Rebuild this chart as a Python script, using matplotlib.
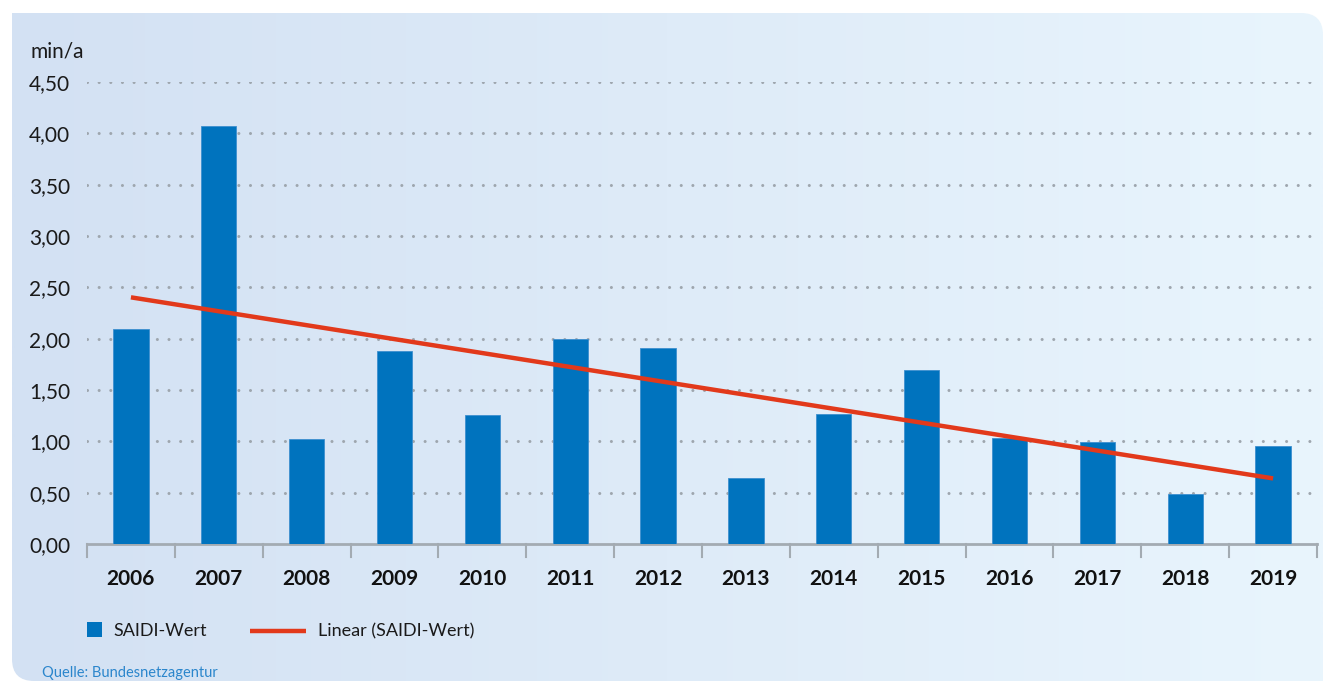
import numpy as np
import matplotlib
matplotlib.use("Agg")
import matplotlib.pyplot as plt
from matplotlib.path import Path
from matplotlib.patches import PathPatch, Rectangle
from matplotlib.lines import Line2D

years = ["2006", "2007", "2008", "2009", "2010", "2011", "2012",
         "2013", "2014", "2015", "2016", "2017", "2018", "2019"]
saidi = [2.09, 4.07, 1.02, 1.88, 1.26, 2.00, 1.91,
         0.64, 1.27, 1.69, 1.03, 0.99, 0.49, 0.95]
y_ticks = [0.0, 0.5, 1.0, 1.5, 2.0, 2.5, 3.0, 3.5, 4.0, 4.5]
y_labels = ["0,00", "0,50", "1,00", "1,50", "2,00", "2,50", "3,00", "3,50", "4,00", "4,50"]
legend_labels = ["SAIDI-Wert", "Linear (SAIDI-Wert)"]

BAR = "#0073be"
RED = "#e2391b"
GRID = "#9ea6ae"
FONT = "Lato"

W, H = 1324, 684
fig = plt.figure(figsize=(W / 100, H / 100), dpi=100)

# background panel with gradient (pixel coordinates)
bg = fig.add_axes([0, 0, 1, 1])
bg.set_xlim(0, W)
bg.set_ylim(H, 0)
bg.axis("off")
x0, x1, y0, y1, r = 12, 1323, 13, 681, 22
verts = [(x0, y0), (x1 - r, y0), (x1, y0), (x1, y0 + r), (x1, y1),
         (x0 + r, y1), (x0, y1), (x0, y1 - r), (x0, y0)]
codes = [Path.MOVETO, Path.LINETO, Path.CURVE3, Path.CURVE3, Path.LINETO,
         Path.LINETO, Path.CURVE3, Path.CURVE3, Path.CLOSEPOLY]
patch = PathPatch(Path(verts, codes), facecolor="none", edgecolor="none")
bg.add_patch(patch)
c_left = np.array([0xd3, 0xe1, 0xf3]) / 255
c_right = np.array([0xe9, 0xf5, 0xfd]) / 255
t = np.linspace(0, 1, 256)
grad = (c_left[None, :] * (1 - t[:, None]) + c_right[None, :] * t[:, None])[None, :, :]
im = bg.imshow(grad, extent=[x0, x1, y1, y0], aspect="auto", interpolation="bilinear")
im.set_clip_path(patch)

# legend drawn in pixel coordinates
bg.add_patch(Rectangle((87, 622), 15, 15, facecolor=BAR, edgecolor="none"))
bg.text(113, 631, legend_labels[0], fontsize=13, fontfamily=FONT, color="#1a1a1a",
        ha="left", va="center")
bg.add_line(Line2D([250, 306], [631, 631], color=RED, lw=3.2, solid_capstyle="butt"))
bg.text(318, 631, legend_labels[1], fontsize=13, fontfamily=FONT, color="#1a1a1a",
        ha="left", va="center")
bg.text(42, 673, "Quelle: Bundesnetzagentur", fontsize=10.5, fontfamily=FONT,
        color="#2b86cc", ha="left", va="center")
bg.text(30, 52, "min/a", fontsize=15, fontfamily=FONT, color="#1a1a1a",
        ha="left", va="center")

# main axes
ax = fig.add_axes([87 / W, 1 - 544 / H, (1317 - 87) / W, (544 - 82) / H])
ax.patch.set_alpha(0)
x = np.arange(len(years))
ax.bar(x, saidi, width=0.4, color=BAR, edgecolor="#3d8fcf", linewidth=0.6, zorder=3)
coef = np.polyfit(x, saidi, 1)
ax.plot(x, np.polyval(coef, x), color=RED, lw=3.2, solid_capstyle="butt", zorder=4)

ax.set_xlim(-0.5, len(years) - 0.5)
ax.set_ylim(0, 4.5)
ax.set_yticks(y_ticks)
ax.set_yticklabels(y_labels, fontsize=15, fontfamily=FONT, color="#1a1a1a")
for yv in y_ticks[1:]:
    ax.axhline(yv, color=GRID, lw=2.2, ls=(0, (0.01, 3.8)), dash_capstyle="round", zorder=1)
ax.tick_params(axis="y", length=0, pad=12)

ax.set_xticks(x)
ax.set_xticklabels(years, fontsize=15, fontweight="bold", fontfamily=FONT, color="#111111")
ax.tick_params(axis="x", length=0, pad=18)
for b in np.arange(-0.5, len(years), 1.0):
    ax.plot([b, b], [0, -0.13], color="#a3abb2", lw=1.5, clip_on=False, zorder=2)

for s in ["top", "right", "left"]:
    ax.spines[s].set_visible(False)
ax.spines["bottom"].set_color("#a3abb2")
ax.spines["bottom"].set_linewidth(2)

fig.savefig("out.png", dpi=100)
